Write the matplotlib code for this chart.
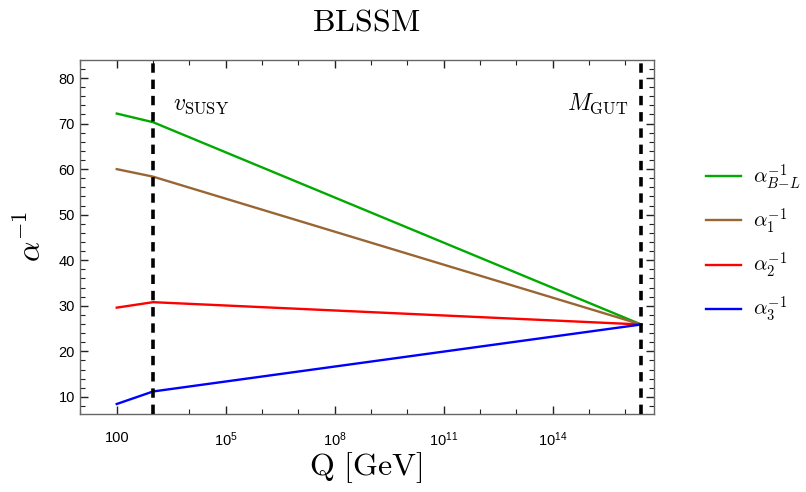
import numpy as np
import matplotlib
matplotlib.use("Agg")
import matplotlib.pyplot as plt
from matplotlib.ticker import FixedLocator, MultipleLocator, FuncFormatter, NullFormatter

plt.rcParams['mathtext.fontset'] = 'cm'
plt.rcParams['font.family'] = ['Liberation Sans', 'DejaVu Sans']

# scales (GeV)
q_mz = 100.0
q_susy = 1.0e3
q_gut = 10 ** 16.44
scales = [q_mz, q_susy, q_gut]

# inverse couplings at the three scales
alpha_bl = [72.2, 70.3, 25.9]
alpha_1 = [60.0, 58.35, 25.9]
alpha_2 = [29.6, 30.8, 25.9]
alpha_3 = [8.45, 11.2, 25.9]

labels = [r'$\alpha^{-1}_{B\!-\!L}$', r'$\alpha^{-1}_{1}$', r'$\alpha^{-1}_{2}$', r'$\alpha^{-1}_{3}$']
colors = ['#00aa00', '#996633', '#ff0000', '#0000ff']

fig = plt.figure(figsize=(8.06, 4.92), dpi=100)
ax = fig.add_axes([0.0989, 0.1585, 0.8113 - 0.0989, 0.878 - 0.1585])

for ys, lab, c in zip([alpha_bl, alpha_1, alpha_2, alpha_3], labels, colors):
    ax.plot(scales, ys, color=c, lw=1.7, label=lab, zorder=3)

for q in [q_susy, q_gut]:
    ax.axvline(q, color='black', lw=2.6, ls=(0, (2.6, 1.9)), zorder=4)

ax.set_xscale('log')
ax.set_xlim(10 ** 0.98, 10 ** 16.79)
ax.set_ylim(6.25, 83.95)

ax.xaxis.set_major_locator(FixedLocator([1e2, 1e5, 1e8, 1e11, 1e14]))
ax.xaxis.set_minor_locator(FixedLocator([10.0 ** k for k in range(1, 18)]))


def xfmt(v, pos):
    e = int(round(np.log10(v)))
    if e == 2:
        return '100'
    return r'$\mathregular{10^{%d}}$' % e


ax.xaxis.set_major_formatter(FuncFormatter(xfmt))
ax.xaxis.set_minor_formatter(NullFormatter())
ax.yaxis.set_major_locator(MultipleLocator(10))
ax.yaxis.set_minor_locator(MultipleLocator(2))

ax.tick_params(which='both', direction='in', top=True, right=True, labelsize=10.5,
               colors='#222222', labelcolor='black')
ax.tick_params(which='major', length=6, width=1.0)
ax.tick_params(which='minor', length=3.5, width=0.8)
ax.tick_params(axis='x', which='major', pad=12)
for s in ax.spines.values():
    s.set_color('#666666')
    s.set_linewidth(1.0)

ax.text(3.5e3, 71.6, r'$v_{\mathrm{SUSY}}$', fontsize=17, ha='left', va='bottom')
ax.text(1.2e16, 71.6, r'$M_{\mathrm{GUT}}$', fontsize=17, ha='right', va='bottom')

fig.text(0.454, 0.955, r'$\mathrm{BLSSM}$', fontsize=23, ha='center', va='center')
fig.text(0.454, 0.05, r'$\mathrm{Q\ [GeV]}$', fontsize=23, ha='center', va='center')
fig.text(0.04, 0.52, r'$\alpha^{-1}$', fontsize=23, ha='center', va='center', rotation=90)

fig.legend(loc='center left', bbox_to_anchor=(0.853, 0.505), frameon=False,
           fontsize=15, handlelength=1.65, handletextpad=0.58, labelspacing=0.7,
           borderaxespad=0.5)

fig.savefig('out.png', dpi=100)
